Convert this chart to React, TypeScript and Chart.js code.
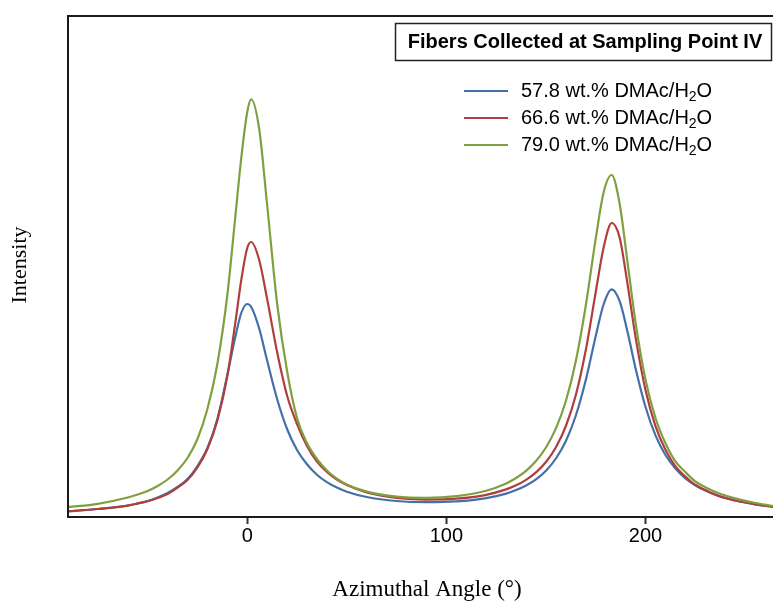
import React, { useEffect, useRef } from 'react';
import { Chart, registerables } from 'chart.js';

Chart.register(...registerables);

// Azimuthal angle (degrees)
const angles = [-90, -75, -60, -55, -50, -45, -40, -35, -30, -25, -20, -15, -10, -6, -3, 0, 2, 6, 10, 15, 20, 25, 30, 35, 40, 45, 50, 60, 75, 90, 105, 120, 130, 135, 140, 145, 150, 155, 160, 165, 170, 175, 179, 183, 187, 191, 195, 200, 205, 210, 215, 220, 225, 230, 237, 245, 254, 264];

// Intensity (a.u.)
const series578 = [5.5, 8, 11.5, 13.6, 16, 19.5, 24, 30, 38, 51, 69, 98, 142, 180, 204, 213, 210, 188.5, 156.5, 118, 88, 67, 52.7, 42.3, 34.8, 29.4, 25.3, 20, 16, 14.8, 15.6, 18.9, 23.4, 26.9, 31.5, 37.7, 46.3, 58.5, 76, 101.5, 137, 181, 213, 227.7, 215.8, 184.7, 148.6, 110, 81.6, 62, 48.4, 38.6, 31.7, 26.4, 21, 16.5, 13, 10];
const series666 = [5.8, 8, 11.3, 13.4, 15.8, 19, 23, 29.5, 37, 49.5, 68, 96.5, 141, 194, 237, 269, 275, 257, 218, 165, 121.5, 93, 71, 55.4, 45, 37.4, 32, 24.6, 19.2, 17.4, 18.3, 22.2, 27.6, 31.7, 37.2, 44.6, 55, 69.7, 91, 122, 167, 225, 270, 294, 279.3, 232.3, 179.6, 126.7, 90.9, 67.2, 50.6, 40.5, 32, 27, 20.7, 16.5, 13.1, 10];
const series790 = [9.8, 13.2, 19.5, 22.5, 26, 31, 37.5, 46.5, 59, 78, 108, 153, 222, 300, 359, 405, 417.6, 388, 312, 213.5, 146, 99, 74, 58, 46.5, 38.4, 32.6, 25.4, 20.3, 19.1, 20.9, 26.3, 33.6, 39, 46.2, 56, 69.5, 88.6, 116, 156, 211.5, 278.6, 325, 342, 313, 254, 194.4, 137.3, 99, 73.8, 55.6, 44.9, 35.5, 29.8, 23.5, 18.6, 14.5, 11];

const seriesLabels = ['57.8 wt.% DMAc/H₂O', '66.6 wt.% DMAc/H₂O', '79.0 wt.% DMAc/H₂O'];
const seriesColors = ['#4470AA', '#AE3F3D', '#80A040'];
const xTickValues = [0, 100, 200];
const legendTitle = 'Fibers Collected at Sampling Point IV';
const xTitle = 'Azimuthal Angle (°)';
const yTitle = 'Intensity';

const SANS = '"Liberation Sans", Arial, Helvetica, sans-serif';
const SERIF = '"Liberation Serif", "Times New Roman", serif';

const decorPlugin = {
  id: 'decor',
  afterDraw(chart: any) {
    const ctx = chart.ctx as CanvasRenderingContext2D;
    const a = chart.chartArea;
    ctx.save();
    // frame (top + left)
    ctx.strokeStyle = '#1a1a1a';
    ctx.lineWidth = 2;
    ctx.beginPath();
    ctx.moveTo(a.left - 1, a.top);
    ctx.lineTo(a.right, a.top);
    ctx.moveTo(a.left, a.top);
    ctx.lineTo(a.left, a.bottom);
    ctx.stroke();

    // legend title box
    ctx.fillStyle = '#ffffff';
    ctx.fillRect(395, 23, 376, 37);
    ctx.strokeStyle = '#222';
    ctx.lineWidth = 1.5;
    ctx.strokeRect(395.5, 23.5, 376, 37);
    ctx.fillStyle = '#000';
    ctx.font = `bold 20px ${SANS}`;
    ctx.textAlign = 'center';
    ctx.textBaseline = 'middle';
    ctx.fillText(legendTitle, 585, 42.5);

    // legend entries
    const ys = [91, 118, 145];
    chart.data.datasets.forEach((ds: any, i: number) => {
      const y = ys[i];
      ctx.strokeStyle = ds.borderColor;
      ctx.lineWidth = 2;
      ctx.beginPath();
      ctx.moveTo(464, y);
      ctx.lineTo(508, y);
      ctx.stroke();
      const parts = String(ds.label).split('₂');
      ctx.fillStyle = '#000';
      ctx.textAlign = 'left';
      ctx.textBaseline = 'middle';
      ctx.font = `20px ${SANS}`;
      let x = 521;
      ctx.fillText(parts[0], x, y);
      x += ctx.measureText(parts[0]).width;
      if (parts.length > 1) {
        ctx.font = `14px ${SANS}`;
        ctx.fillText('2', x, y + 6);
        x += ctx.measureText('2').width;
        ctx.font = `20px ${SANS}`;
        ctx.fillText(parts[1], x, y);
      }
    });

    // axis titles
    ctx.fillStyle = '#000';
    ctx.textAlign = 'center';
    ctx.textBaseline = 'middle';
    ctx.font = `23px ${SERIF}`;
    ctx.fillText(xTitle, 427, 590);
    ctx.translate(20, 265);
    ctx.rotate(-Math.PI / 2);
    ctx.font = `22px ${SERIF}`;
    ctx.fillText(yTitle, 0, 0);
    ctx.restore();
  },
};

export default function App() {
  const canvasRef = useRef<HTMLCanvasElement | null>(null);

  useEffect(() => {
    if (!canvasRef.current) return;
    const allSeries = [series578, series666, series790];
    const chart = new Chart(canvasRef.current, {
      type: 'line',
      data: {
        datasets: allSeries.map((vals, i) => ({
          label: seriesLabels[i],
          data: angles.map((a, j) => ({ x: a, y: vals[j] })),
          borderColor: seriesColors[i],
          backgroundColor: seriesColors[i],
          borderWidth: 2.2,
          pointRadius: 0,
          fill: false,
          cubicInterpolationMode: 'monotone' as const,
          order: 2 - i,
        })),
      },
      options: {
        responsive: false,
        animation: false,
        layout: { padding: { left: 68, top: 16, right: 0, bottom: 54 } },
        plugins: { legend: { display: false }, tooltip: { enabled: false }, title: { display: false } },
        scales: {
          x: {
            type: 'linear',
            min: -90,
            max: 264,
            afterBuildTicks: (scale: any) => {
              scale.ticks = xTickValues.map((v) => ({ value: v }));
            },
            grid: { display: true, drawOnChartArea: false, drawTicks: true, tickLength: 7, tickWidth: 2, tickColor: '#333' },
            border: { display: true, color: '#1a1a1a', width: 2 },
            ticks: { font: { family: SANS, size: 20, lineHeight: 1.2 }, color: '#000', padding: 0, maxRotation: 0, callback: (v: any) => String(v) },
          },
          y: {
            display: false,
            min: 0,
            max: 501,
          },
        },
      },
      plugins: [decorPlugin],
    });
    return () => chart.destroy();
  }, []);

  return (
    <canvas
      ref={canvasRef}
      width={773}
      height={602}
      style={{ position: 'absolute', left: 0, top: 0, display: 'block', width: 773, height: 602 }}
    />
  );
}
